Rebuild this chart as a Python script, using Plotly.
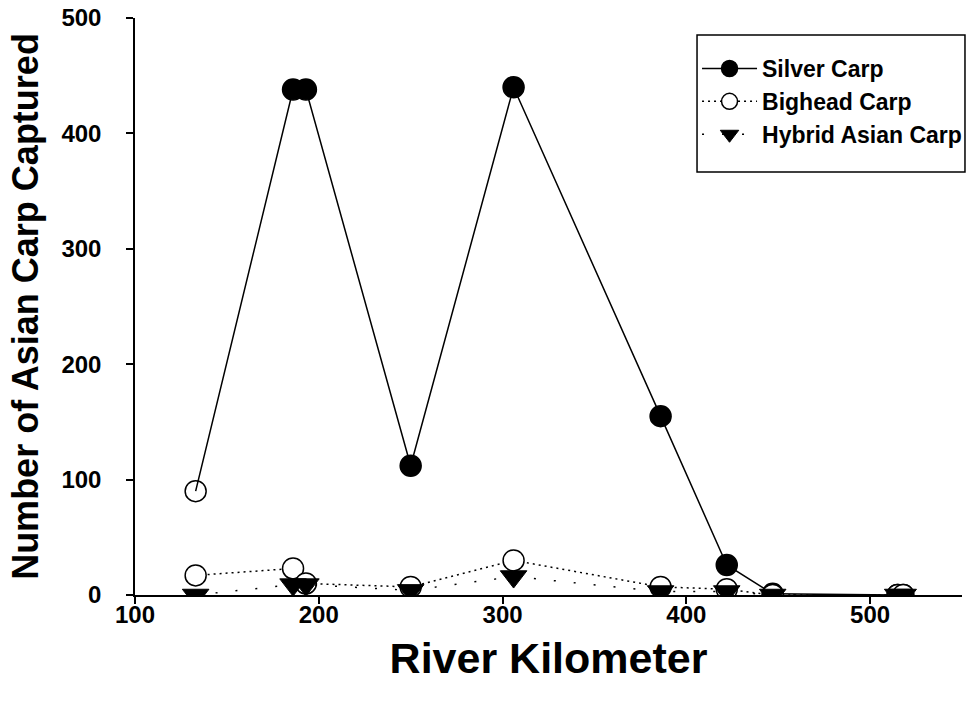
import plotly.graph_objects as go

river_km = [133, 186, 193, 250, 306, 386, 422, 447, 515, 518]
silver_carp = [90, 438, 438, 112, 440, 155, 26, 1, 0, 0]
bighead_carp = [17, 23, 10, 7, 30, 7, 5, 0, 0, 0]
hybrid_carp = [0, 9, 9, 4, 16, 3, 3, 0, 0, 0]
x_ticks = [100, 200, 300, 400, 500]
y_ticks = [0, 100, 200, 300, 400, 500]

FONT = "Liberation Sans, Arial, sans-serif"

# silver: first point (133 km) drawn as open circle; reverse order so legend uses a filled circle
s_x = river_km[::-1]
s_y = silver_carp[::-1]
s_sym = ["circle"] * (len(s_x) - 1) + ["circle-open"]

fig = go.Figure()
fig.add_trace(go.Scatter(
    x=s_x, y=s_y, name="Silver Carp", mode="lines+markers",
    line=dict(color="black", width=1.5),
    marker=dict(symbol=s_sym, size=21, color="black", line=dict(color="black", width=1.5)),
    legendgroup="a",
))
fig.add_trace(go.Scatter(
    x=river_km, y=bighead_carp, name="Bighead Carp", mode="lines+markers",
    line=dict(color="black", width=1.5, dash="2px,4px"),
    marker=dict(symbol="circle", size=21, color="white", line=dict(color="black", width=1.5)),
    legendgroup="b",
))
fig.add_trace(go.Scatter(
    x=river_km, y=hybrid_carp, name="Hybrid Asian Carp", mode="lines+markers",
    line=dict(color="black", width=1.5, dash="2px,18px"),
    marker=dict(symbol="triangle-down", size=23, color="black", line=dict(color="black", width=1)),
    legendgroup="c",
))

# legend frame
fig.add_shape(type="rect", xref="paper", yref="paper",
              x0=0.6796, x1=1.0036, y0=0.7331, y1=0.9705,
              line=dict(color="black", width=1.5), fillcolor="white", layer="above")

fig.update_layout(
    width=979, height=711,
    paper_bgcolor="white", plot_bgcolor="white",
    margin=dict(l=135, r=17, t=18, b=116, autoexpand=False),
    font=dict(family=FONT, color="black"),
    showlegend=True,
    legend=dict(
        x=0.6796, y=0.9497, xanchor="left", yanchor="top",
        bgcolor="rgba(0,0,0,0)", borderwidth=0,
        font=dict(family=FONT, size=23, color="black", weight="bold"),
        tracegroupgap=10, traceorder="normal", itemwidth=55,
    ),
    xaxis=dict(
        range=[100, 550], tickvals=x_ticks, ticktext=[str(v) for v in x_ticks],
        showline=True, linecolor="black", linewidth=1.5,
        ticks="outside", ticklen=7, tickwidth=1.5, tickcolor="black",
        showgrid=False, zeroline=False, ticklabelstandoff=-10,
        ticklabeloverflow="allow",
        tickfont=dict(family=FONT, size=24, weight="bold"),
        title=dict(text="River Kilometer", font=dict(family=FONT, size=43, weight="bold"), standoff=16),
    ),
    yaxis=dict(
        range=[0, 500], tickvals=y_ticks, ticktext=[str(v) for v in y_ticks],
        showline=True, linecolor="black", linewidth=1.5,
        ticks="outside", ticklen=7, tickwidth=1.5, tickcolor="black",
        showgrid=False, zeroline=False, ticklabelstandoff=20,
        ticklabeloverflow="allow",
        tickfont=dict(family=FONT, size=24, weight="bold"),
        title=dict(text="Number of Asian Carp Captured", font=dict(family=FONT, size=36, weight="bold"), standoff=12),
    ),
)

fig.write_html("out.html", config={"displayModeBar": False},
               post_script="document.body.style.margin='0';document.body.style.overflow='hidden';")
